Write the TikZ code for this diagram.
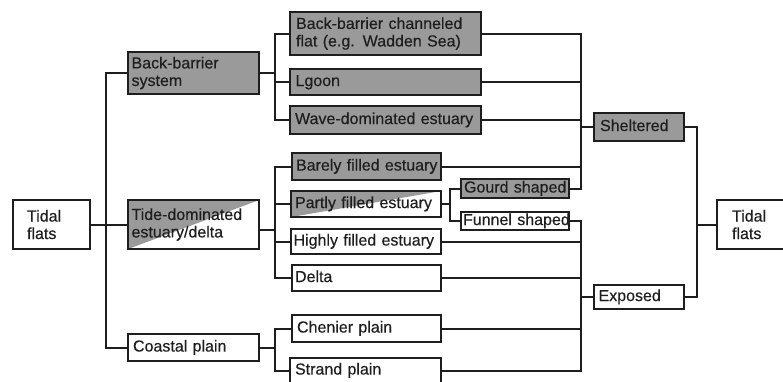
\documentclass[tikz,border=0pt]{standalone}
\usepackage{fontspec}
\setmainfont{Liberation Sans}[BoldFont=Liberation Sans, BoldFeatures={FakeBold=0.35}]
\definecolor{boxgray}{RGB}{154,154,154}
\definecolor{ink}{RGB}{30,30,30}
\tikzset{
  base/.style={draw=ink, line width=2.1pt, anchor=north west, inner ysep=0pt,
    align=left, font=\fontsize{16}{17.5}\selectfont\bfseries, text=ink},
  graybox/.style={base, fill=boxgray},
  whitebox/.style={base, fill=white},
  halfbox/.style={base, fill=white, path picture={\fill[boxgray]
      (path picture bounding box.north west) -- (path picture bounding box.north east)
      -- (path picture bounding box.south west) -- cycle;}},
  one/.style={text height=11.5pt, text depth=3.5pt},
  conn/.style={draw=ink, line width=2.1pt},
}
\newcommand\mybox[8]{%
  \pgfmathsetmacro\mytw{#5-2*#7}%
  \node[#2, minimum width=#5pt, minimum height=#6pt, inner xsep=#7pt,
        text width=\mytw pt] (#1) at (#3,#4) {#8};}
\begin{document}
\begin{tikzpicture}[x=1pt,y=-1pt]
\useasboundingbox (0,0) rectangle (783,381);
\clip (0,0) rectangle (783,381);
\fill[white] (0,0) rectangle (783,381);
% nodes
\mybox{tfL}{whitebox}{12}{199}{77}{49}{14}{Tidal\\flats}
\mybox{bbs}{graybox}{127}{51}{131}{42}{3.5}{Back-barrier\\system}
\mybox{tde}{halfbox}{127}{199}{131}{49}{3.5}{Tide-dominated\\estuary/delta}
\mybox{cp}{whitebox,one}{127}{333}{131}{27}{5}{\mbox{Coastal plain}}
\mybox{bbc}{graybox}{289}{11}{191}{43}{6}{Back-barrier channeled\\flat (e.g. Wadden Sea)}
\mybox{lg}{graybox,one}{289}{68}{191}{26}{5.5}{\mbox{Lgoon}}
\mybox{wde}{graybox,one}{289}{105}{191}{28}{5}{\mbox{Wave-dominated estuary}}
\mybox{bfe}{graybox,one}{291}{152}{149}{27}{4}{\mbox{Barely filled estuary}}
\mybox{pfe}{halfbox,one}{290}{190}{150}{26}{4}{\mbox{Partly filled estuary}}
\mybox{hfe}{whitebox,one}{290}{228}{150}{25}{2.5}{\mbox{Highly filled estuary}}
\mybox{dl}{whitebox,one}{291}{264}{149}{26}{3}{\mbox{Delta}}
\mybox{ch}{whitebox,one}{291}{314}{149}{27}{5}{\mbox{Chenier plain}}
\mybox{sp}{whitebox,one}{289}{357}{151}{25}{5}{\mbox{Strand plain}}
\mybox{gs}{graybox,one}{460}{178}{108}{19}{3}{\mbox{Gourd shaped}}
\mybox{fs}{whitebox,one}{460}{211}{108}{18}{2}{\mbox{Funnel shaped}}
\mybox{sh}{graybox,one}{593}{112}{90}{28}{6}{\mbox{Sheltered}}
\mybox{ex}{whitebox,one}{593}{284}{90}{24}{4.5}{\mbox{Exposed}}
\mybox{tfR}{whitebox}{716}{199}{90}{49}{15}{Tidal\\flats}
% junction columns
\coordinate (jA) at (106,0);
\coordinate (jB) at (275,0);
\coordinate (jC) at (450,0);
\coordinate (jD) at (581,0);
\coordinate (jE) at (697,0);
\coordinate (tdeo) at ([yshift=-5.5pt]tde.east);
% connectors
\foreach \c in {bbs,tde,cp} \draw[conn] (tfL.east) -- (tfL.east -| jA) |- (\c.west);
\foreach \c in {bbc,lg,wde} \draw[conn] (bbs.east) -- (bbs.east -| jB) |- (\c.west);
\foreach \c in {bfe,pfe,hfe,dl} \draw[conn] (tdeo) -- (tdeo -| jB) |- (\c.west);
\foreach \c in {ch,sp} \draw[conn] (cp.east) -- (cp.east -| jB) |- (\c.west);
\foreach \c in {gs,fs} \draw[conn] (pfe.east) -- (pfe.east -| jC) |- (\c.west);
\foreach \c in {bbc,lg,wde,bfe,gs} \draw[conn] (\c.east) -- (\c.east -| jD) |- (sh.west);
\foreach \c in {fs,hfe,dl,ch,sp} \draw[conn] (\c.east) -- (\c.east -| jD) |- (ex.west);
\foreach \c in {sh,ex} \draw[conn] (\c.east) -- (\c.east -| jE) |- (tfR.west);
\end{tikzpicture}
\end{document}
